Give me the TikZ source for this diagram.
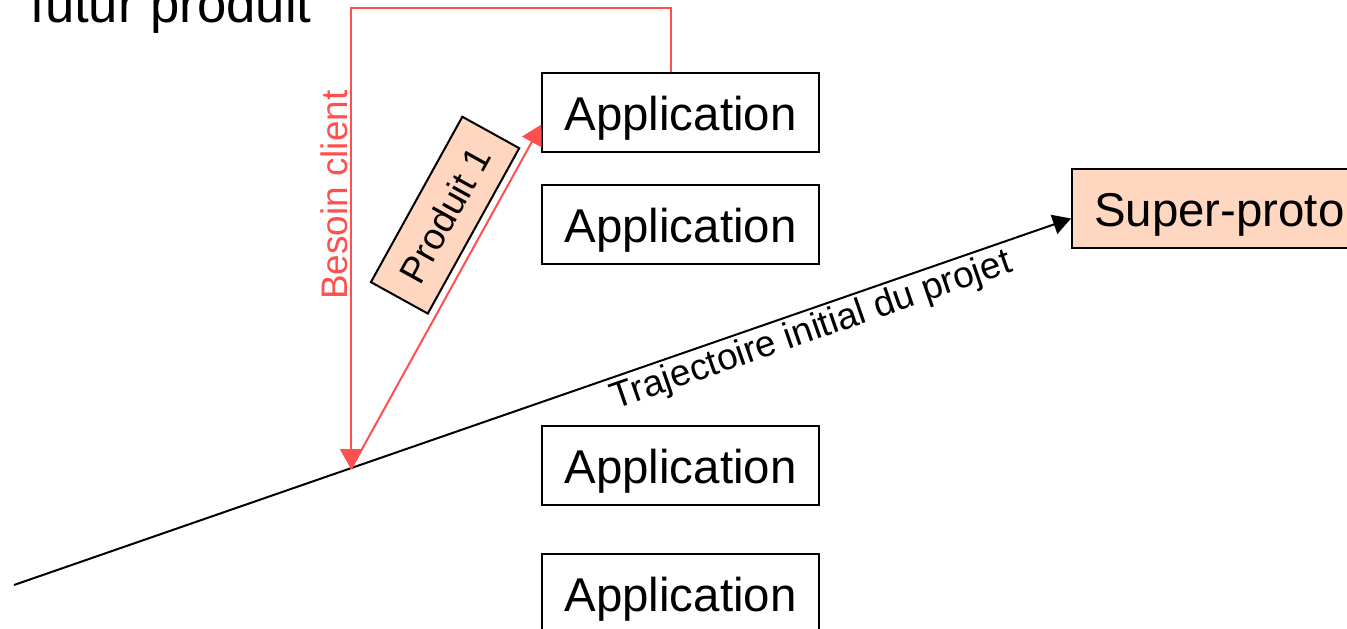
\documentclass[tikz,border=0pt]{standalone}
\usepackage{fontspec}
\setmainfont{Liberation Sans}
\usetikzlibrary{arrows.meta,calc}
\definecolor{ink}{HTML}{000000}
\definecolor{besoinLine}{HTML}{FF5050}
\definecolor{protoFill}{HTML}{FFD6C0}
\tikzset{
  % --- boxes ----------------------------------------------------------------
  appbox/.style   = {draw=ink, fill=white, line width=0.04cm,
                     inner xsep=0.44cm, minimum height=1.58cm,
                     text height=26.2pt, text depth=5.7pt,
                     font=\fontsize{27}{32}\selectfont},
  protobox/.style = {appbox, fill=protoFill},
  prodlbl/.style  = {draw=ink, fill=protoFill, line width=0.04cm,
                     minimum width=3.78cm, minimum height=1.3cm, inner sep=0pt,
                     font=\fontsize{21}{25}\selectfont},
  % --- connectors -----------------------------------------------------------
  traj/.style     = {draw=ink, line width=0.04cm,
                     -{Triangle[length=0.36cm,width=0.4cm]}},
  besoin/.style   = {draw=besoinLine, line width=0.04cm,
                     -{Triangle[length=0.4cm,width=0.44cm]}},
  % --- labels ---------------------------------------------------------------
  pathlbl/.style  = {font=\fontsize{21}{25}\selectfont, inner sep=1pt},
}
\begin{document}
\begin{tikzpicture}[x=0.02cm, y=-0.02cm]
\clip (0,0) rectangle (1347,629);

% ------------------------------- title -------------------------------------
\node[anchor=base west, inner sep=0pt, font=\fontsize{30}{36}\selectfont]
     (titre) at (30,22) {futur produit};

% ---------------------------- applications ---------------------------------
\node[appbox] (app1) at (680.5,112.5) {Application};
\node[appbox] (app2) at (680.5,224.5) {Application};
\node[appbox] (app3) at (680.5,465.5) {Application};
\node[appbox] (app4) at (680.5,593.5) {Application};

\node[protobox, anchor=west] (proto) at (1071,208.5) {Super-proto};

% ------------------------------ trajectory ---------------------------------
\coordinate (origine) at (14,585);
\coordinate (jalon)   at (351,469);
\draw[traj] (origine) -- node[pathlbl, pos=0.748, sloped, below=1pt]
      {Trajectoire initial du projet} ($(proto.west)+(0,10)$);

% ---------------------------- besoin / produit ------------------------------
\draw[besoin] ($(app1.north)+(-10,0)$) -- ++(0,-64) -|
      node[pathlbl, text=besoinLine, pos=0.703, rotate=90, above] {Besoin client}
      (jalon);
\draw[besoin] (jalon) -- node[prodlbl, pos=0.68, sloped, above=0.14cm] {Produit 1}
      ($(app1.west)+(0,12)$);

\end{tikzpicture}
\end{document}
